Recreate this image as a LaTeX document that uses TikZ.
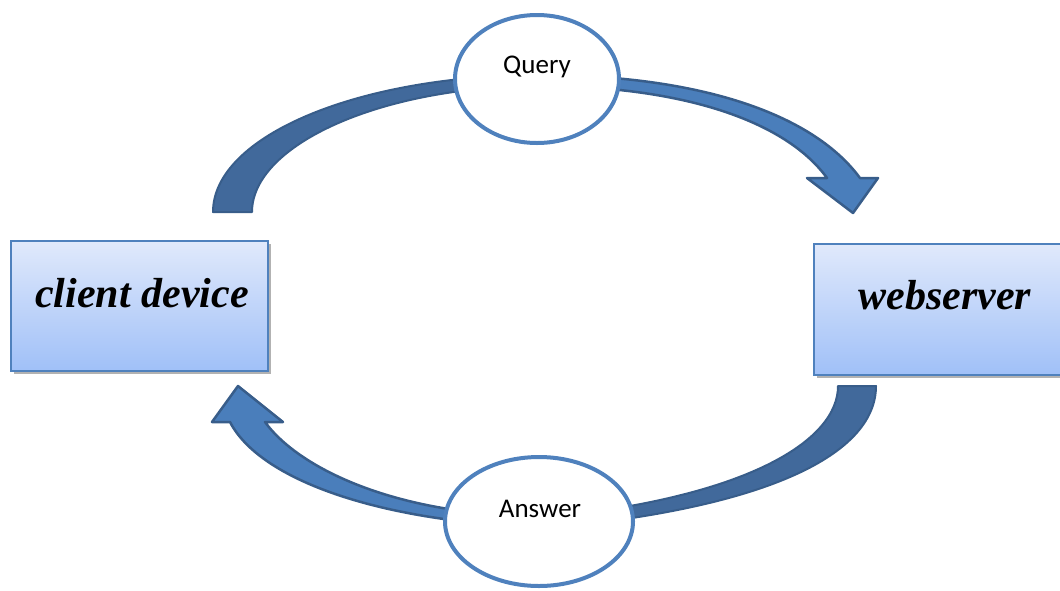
\documentclass[tikz,border=0pt]{standalone}
\usepackage{fontspec}
\setmainfont{Liberation Serif}
\newfontfamily\calib{Carlito}
\usetikzlibrary{shapes.geometric,shadows}
\definecolor{bandback}{RGB}{65,105,155}
\definecolor{bandfront}{RGB}{74,126,187}
\definecolor{bandline}{RGB}{56,93,138}
\definecolor{ellline}{RGB}{79,129,189}
\definecolor{boxline}{RGB}{79,129,189}
\definecolor{boxtop}{RGB}{224,233,251}
\definecolor{boxbot}{RGB}{160,192,248}
\begin{document}
\begin{tikzpicture}[x=1pt,y=-1pt,
  backband/.style={fill=bandback, draw=bandline, line width=2pt, line join=round},
  frontband/.style={fill=bandfront, draw=bandline, line width=2.5pt, line join=round},
  bubble/.style={ellipse, draw=ellline, line width=4pt, fill=white, inner sep=0pt},
  entity/.style={rectangle, draw=boxline, line width=1.5pt, top color=boxtop, bottom color=boxbot,
    drop shadow={shadow xshift=3pt, shadow yshift=-3pt, opacity=0.3, fill=black}, inner sep=0pt},
  bubbletext/.style={font=\calib\fontsize{27}{32}\selectfont, anchor=base, inner sep=0pt},
  entitytext/.style={font=\bfseries\itshape\fontsize{42}{50}\selectfont, anchor=base, inner sep=0pt}]
\useasboundingbox (0,0) rectangle (1060,590);

% top arrow (client -> webserver)
\path[backband] (213,212) .. controls (213,136) and (359,75) .. (540,75) -- (560,75) -- (560,86) -- (540,86)
  .. controls (381,86) and (252,145) .. (252,212) -- cycle;
\path[frontband] (540,75) .. controls (690,75) and (810,110) .. (860,178) -- (878,178) -- (853,213)
  -- (807,178) -- (827,178) .. controls (785,120) and (680,86) .. (540,86) -- cycle;

% bottom arrow (webserver -> client)
\path[backband] (876,386) .. controls (876,450) and (780,505) .. (560,527) -- (540,527) -- (540,516) -- (560,516)
  .. controls (750,495) and (838,440) .. (838,386) -- cycle;
\path[frontband] (540,527) .. controls (380,522) and (260,480) .. (230,422) -- (212,422) -- (238,386)
  -- (283,422) -- (265,422) .. controls (300,470) and (400,516) .. (540,516) -- cycle;

% ellipses
\node[bubble, minimum width=164pt, minimum height=128pt] (query) at (537,79) {};
\node[bubbletext] (querytext) at (537,73) {Query};
\node[bubble, minimum width=188pt, minimum height=129pt] (answer) at (539,521.5) {};
\node[bubbletext] (answertext) at (540,517) {Answer};

% boxes
\node[entity, minimum width=257pt, minimum height=130pt] (client) at (139.5,306) {};
\node[entitytext] (clienttext) at (142,307) {client device};
\node[entity, minimum width=256pt, minimum height=131pt] (server) at (942,309.5) {};
\node[entitytext] (servertext) at (945,309) {webserver};
\end{tikzpicture}
\end{document}
